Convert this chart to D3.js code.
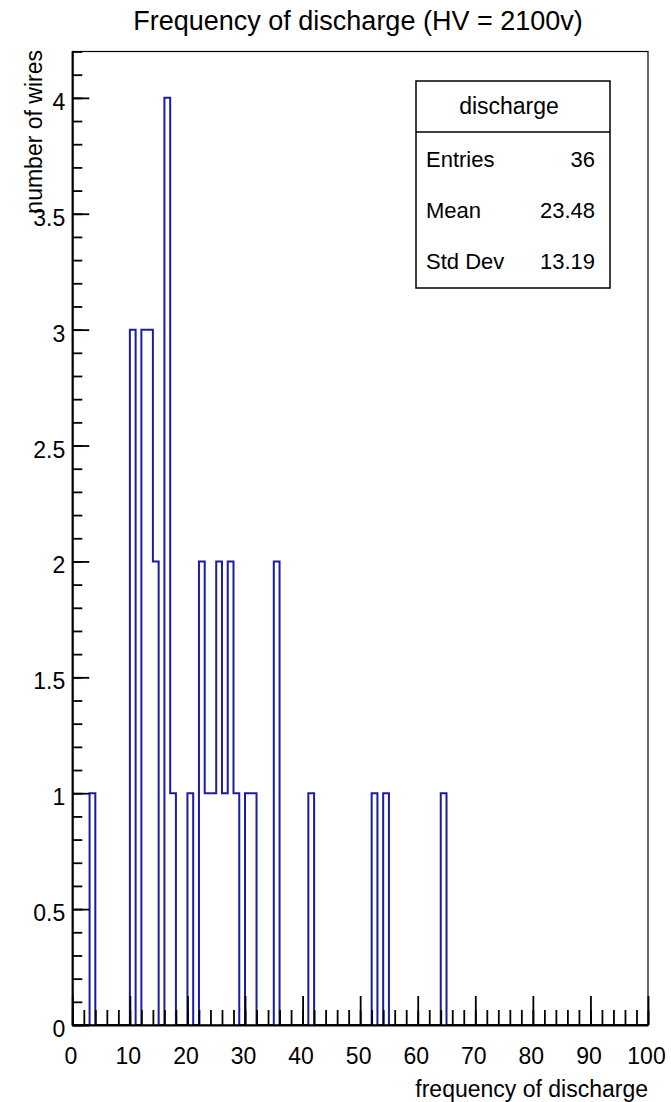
<!DOCTYPE html>
<html>
<head>
<meta charset="utf-8">
<script src="https://cdn.jsdelivr.net/npm/d3@7"></script>
<style>
  body { margin: 0; background: #fff; }
  text { font-family: "Liberation Sans", Arial, Helvetica, sans-serif; fill: #000; }
</style>
</head>
<body>
<div id="chart"></div>
<script>
// histogram "discharge": 100 bins of width 1 from 0 to 100, only the filled bins listed
var binStarts = [3, 10, 12, 13, 14, 16, 17, 20, 22, 23, 24, 25, 26, 27, 28, 30, 31, 35, 41, 52, 54, 64];
var binCounts = [1, 3, 3, 3, 2, 4, 1, 1, 2, 1, 1, 2, 1, 2, 1, 1, 1, 2, 1, 1, 1, 1];

var xTickValues = [0, 10, 20, 30, 40, 50, 60, 70, 80, 90, 100];
var yTickValues = [0, 0.5, 1, 1.5, 2, 2.5, 3, 3.5, 4];

var statNames = ["Entries", "Mean", "Std Dev"];
var statValues = ["36", "23.48", "13.19"];

// set the dimensions and margins of the graph
var W = 671, H = 1102;
var margin = {top: 51.5, right: 23, bottom: 77, left: 72.3},
    width = W - margin.left - margin.right,
    height = H - margin.top - margin.bottom;

var svg = d3.select("#chart")
  .append("svg")
    .attr("width", W)
    .attr("height", H);

var g = svg.append("g")
    .attr("transform", "translate(" + margin.left + "," + margin.top + ")");

var x = d3.scaleLinear().domain([0, 100]).range([0, width]);
var y = d3.scaleLinear().domain([0, 4.2]).range([height, 0]);

// full bin table (zero where nothing was filled)
var bins = d3.range(100).map(function(i) {
  var k = binStarts.indexOf(i);
  return {lo: i, hi: i + 1, n: k < 0 ? 0 : binCounts[k]};
});

// step outline, like ROOT draws a histogram
var pts = [{x: 0, y: 0}];
bins.forEach(function(b) {
  pts.push({x: b.lo, y: b.n});
  pts.push({x: b.hi, y: b.n});
});
pts.push({x: 100, y: 0});

var line = d3.line()
  .x(function(d) { return x(d.x); })
  .y(function(d) { return y(d.y); });

g.append("path")
  .datum(pts)
  .attr("d", line)
  .attr("fill", "none")
  .attr("stroke", "#1c1ca2")
  .attr("stroke-width", 2);

// frame
g.append("rect")
  .attr("width", width)
  .attr("height", height)
  .attr("fill", "none")
  .attr("stroke", "#000")
  .attr("stroke-width", 1.2);

// X axis: major and minor ticks pointing inward
g.append("g")
  .attr("transform", "translate(0," + height + ")")
  .call(d3.axisBottom(x).tickValues(x.ticks(50)).tickSize(-15).tickFormat(""))
  .call(function(a) { a.select(".domain").remove(); });

var xAxis = g.append("g")
  .attr("transform", "translate(0," + height + ")")
  .call(d3.axisBottom(x).tickValues(xTickValues).tickSizeInner(-29).tickSizeOuter(0).tickPadding(23));
xAxis.selectAll("text").attr("dx", "-2").style("font-size", "23px");

// Y axis
g.append("g")
  .call(d3.axisLeft(y).tickValues(y.ticks(42)).tickSize(-10).tickFormat(""))
  .call(function(a) { a.select(".domain").remove(); });

var yAxis = g.append("g")
  .call(d3.axisLeft(y).tickValues(yTickValues).tickSizeInner(-17).tickSizeOuter(0).tickPadding(7)
    .tickFormat(function(d) { return String(d); }));
yAxis.selectAll("text").attr("dy", "0.5em").style("font-size", "23px");

g.selectAll(".tick line").attr("stroke", "#000").attr("stroke-width", 1.8);
g.selectAll(".domain").attr("stroke", "#000").attr("stroke-width", 2);

// titles
svg.append("text")
  .attr("x", 358)
  .attr("y", 30)
  .attr("text-anchor", "middle")
  .style("font-size", "27px")
  .text("Frequency of discharge (HV = 2100v)");

svg.append("text")
  .attr("text-anchor", "end")
  .attr("transform", "translate(" + (margin.left + width) + ",1097)")
  .style("font-size", "23px")
  .text("frequency of discharge");

svg.append("text")
  .attr("text-anchor", "end")
  .attr("transform", "translate(42,50) rotate(-90)")
  .style("font-size", "23px")
  .text("number of wires");

// statistics box
var box = {x: 416, y: 81, w: 194, h: 207, head: 51};
var stats = svg.append("g");
stats.append("rect")
  .attr("x", box.x).attr("y", box.y)
  .attr("width", box.w).attr("height", box.h)
  .attr("fill", "#fff")
  .attr("stroke", "#000")
  .attr("stroke-width", 1.5);
stats.append("line")
  .attr("x1", box.x).attr("x2", box.x + box.w)
  .attr("y1", box.y + box.head).attr("y2", box.y + box.head)
  .attr("stroke", "#000")
  .attr("stroke-width", 1.5);
stats.append("text")
  .attr("x", box.x + box.w / 2 - 4)
  .attr("y", box.y + 33)
  .attr("text-anchor", "middle")
  .style("font-size", "23px")
  .text("discharge");

var rowY = d3.scalePoint().domain(statNames).range([167, 269]);
stats.selectAll("text.name")
  .data(statNames)
  .enter().append("text")
    .attr("class", "name")
    .attr("x", box.x + 10)
    .attr("y", function(d) { return rowY(d); })
    .style("font-size", "22px")
    .text(function(d) { return d; });
stats.selectAll("text.val")
  .data(statValues)
  .enter().append("text")
    .attr("class", "val")
    .attr("x", box.x + box.w - 15)
    .attr("y", function(d, i) { return rowY(statNames[i]); })
    .attr("text-anchor", "end")
    .style("font-size", "22px")
    .text(function(d) { return d; });
</script>
</body>
</html>
